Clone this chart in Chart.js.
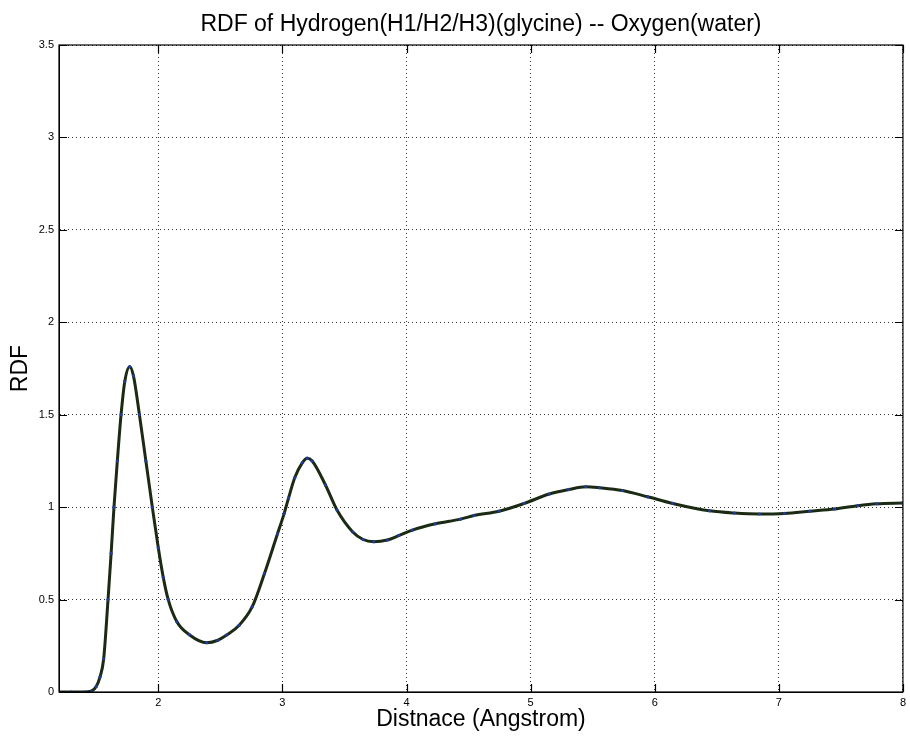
<!DOCTYPE html>
<html>
<head>
<meta charset="utf-8">
<title>RDF of Hydrogen -- Oxygen</title>
<script src="https://cdn.jsdelivr.net/npm/chart.js@4.4.1/dist/chart.umd.min.js"></script>
<style>
  html, body { margin: 0; padding: 0; background: #fff; }
  #wrap { width: 910px; height: 738px; position: relative; }
</style>
</head>
<body>
<div id="wrap"><canvas id="rdf-chart"></canvas></div>
<script>
(function () {
  'use strict';

  /* ---------- Data ---------- */
  var distance = [
    1.20, 1.30, 1.40, 1.46, 1.50, 1.53, 1.56, 1.595, 1.62, 1.643,
    1.67, 1.70, 1.73, 1.77, 1.80, 1.848, 1.90, 1.952, 2.00, 2.04,
    2.08, 2.15, 2.25, 2.39, 2.48, 2.55, 2.65, 2.756, 2.855, 2.96,
    3.014, 3.05, 3.10, 3.16, 3.20, 3.24, 3.347, 3.44, 3.565, 3.65,
    3.736, 3.845, 3.938, 4.047, 4.233, 4.435, 4.544, 4.746, 4.948, 5.15,
    5.306, 5.445, 5.554, 5.74, 5.943, 6.145, 6.44, 6.642, 6.844, 7.046,
    7.25, 7.45, 7.637, 7.79, 8.00
  ];
  var rdf = [
    0, 0, 0, 0.005, 0.03, 0.08, 0.18, 0.50, 0.75, 1.00,
    1.25, 1.50, 1.68, 1.76, 1.71, 1.50, 1.25, 1.00, 0.78, 0.62,
    0.50, 0.38, 0.31, 0.267, 0.28, 0.308, 0.36, 0.46, 0.64, 0.855,
    0.965, 1.05, 1.16, 1.24, 1.265, 1.25, 1.12, 0.984, 0.867, 0.825,
    0.813, 0.822, 0.846, 0.876, 0.91, 0.935, 0.955, 0.978, 1.02, 1.071,
    1.095, 1.11, 1.105, 1.09, 1.056, 1.02, 0.98, 0.968, 0.963, 0.966,
    0.978, 0.99, 1.008, 1.018, 1.022
  ];
  var xTicks = [2, 3, 4, 5, 6, 7, 8];
  var yTicks = [0, 0.5, 1, 1.5, 2, 2.5, 3, 3.5];

  var TITLE = 'RDF of Hydrogen(H1/H2/H3)(glycine) -- Oxygen(water)';
  var FONT = "'Liberation Sans', Arial, Helvetica, sans-serif";

  var points = distance.map(function (d, i) { return { x: d, y: rdf[i] }; });

  /* ---------- Plugin: box, inward ticks, title over the axes ---------- */
  var matlabFrame = {
    id: 'matlabFrame',
    afterDraw: function (chart) {
      var ctx = chart.ctx;
      var a = chart.chartArea;
      var xs = chart.scales.x, ys = chart.scales.y;
      var len = 8;
      ctx.save();
      ctx.strokeStyle = '#000';
      ctx.lineWidth = 1.2;
      ctx.strokeRect(a.left, a.top, a.right - a.left, a.bottom - a.top);
      ctx.beginPath();
      xTicks.forEach(function (v) {
        var px = Math.round(xs.getPixelForValue(v)) + 0.5;
        ctx.moveTo(px, a.bottom); ctx.lineTo(px, a.bottom - len);
        ctx.moveTo(px, a.top); ctx.lineTo(px, a.top + len);
      });
      yTicks.forEach(function (v) {
        var py = Math.round(ys.getPixelForValue(v)) + 0.5;
        ctx.moveTo(a.left, py); ctx.lineTo(a.left + len, py);
        ctx.moveTo(a.right, py); ctx.lineTo(a.right - len, py);
      });
      ctx.stroke();

      ctx.fillStyle = '#000';
      ctx.font = '23px ' + FONT;
      ctx.textAlign = 'center';
      ctx.textBaseline = 'middle';
      ctx.fillText(TITLE, (a.left + a.right) / 2, 25);
      ctx.restore();
    }
  };

  /* ---------- Chart ---------- */
  var ctx = document.getElementById('rdf-chart').getContext('2d');
  new Chart(ctx, {
    type: 'line',
    data: {
      datasets: [
        {
          label: 'raw',
          data: points,
          showLine: false,
          pointRadius: 1.6,
          pointBackgroundColor: '#1f3c9c',
          pointBorderWidth: 0,
          order: 0
        },
        {
          label: 'RDF',
          data: points,
          borderColor: '#1b2a12',
          borderWidth: 3,
          pointRadius: 0,
          cubicInterpolationMode: 'monotone',
          fill: false,
          order: 1
        }
      ]
    },
    options: {
      responsive: true,
      maintainAspectRatio: false,
      animation: false,
      layout: { padding: { top: 45, right: 2, left: 0, bottom: 0 } },
      plugins: {
        legend: { display: false },
        title: { display: false },
        tooltip: { enabled: false }
      },
      scales: {
        x: {
          type: 'linear',
          min: 1.2,
          max: 8,
          afterBuildTicks: function (scale) {
            scale.ticks = xTicks.map(function (v) { return { value: v }; });
          },
          afterFit: function (scale) { scale.height = 46; },
          grid: { color: '#333', lineWidth: 1, drawTicks: false },
          border: { display: true, color: '#000', dash: [1, 3] },
          ticks: {
            padding: 4,
            color: '#000',
            font: { family: FONT, size: 11 },
            callback: function (v) { return String(v); }
          },
          title: {
            display: true,
            text: 'Distnace (Angstrom)',
            color: '#000',
            font: { family: FONT, size: 23 },
            padding: { top: 0, bottom: 5 }
          }
        },
        y: {
          type: 'linear',
          min: 0,
          max: 3.5,
          afterBuildTicks: function (scale) {
            scale.ticks = yTicks.map(function (v) { return { value: v }; });
          },
          afterFit: function (scale) { scale.width = 59; },
          grid: { color: '#333', lineWidth: 1, drawTicks: false },
          border: { display: true, color: '#000', dash: [1, 3] },
          ticks: {
            padding: 5,
            color: '#000',
            font: { family: FONT, size: 11 },
            callback: function (v) { return String(v); }
          },
          title: {
            display: true,
            text: 'RDF',
            color: '#000',
            font: { family: FONT, size: 23 },
            padding: { top: 7, bottom: 0 }
          }
        }
      }
    },
    plugins: [matlabFrame]
  });
})();
</script>
</body>
</html>
